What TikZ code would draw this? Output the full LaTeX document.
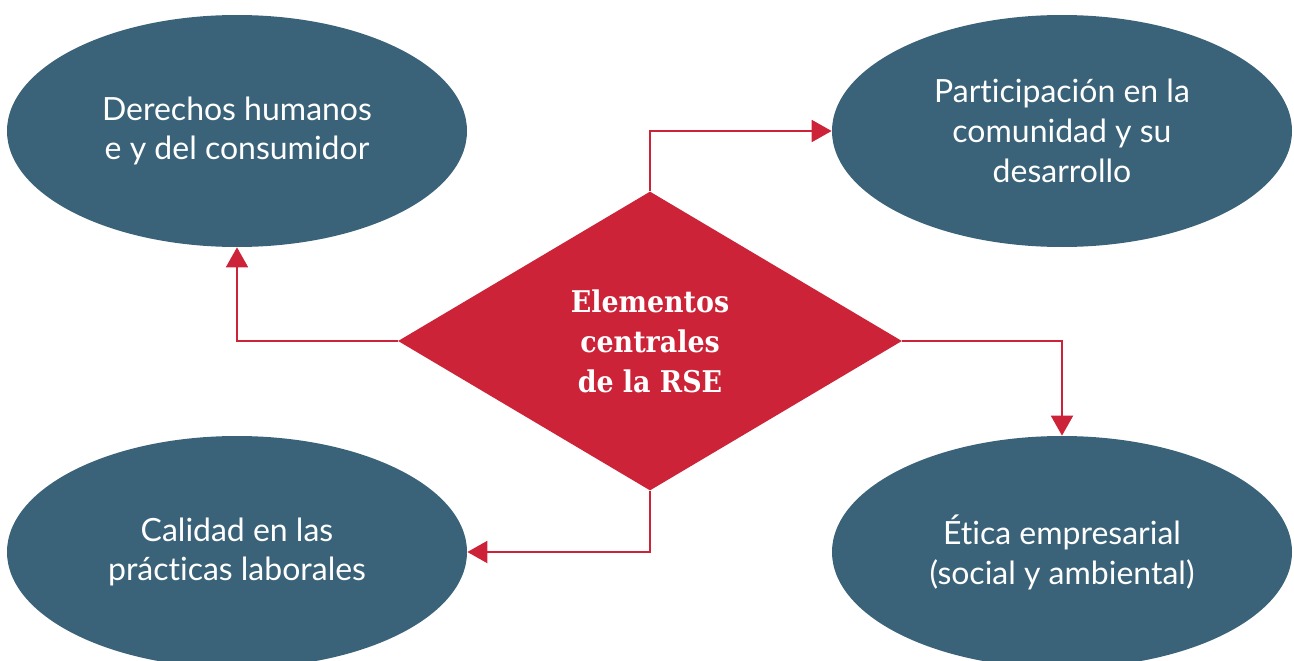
\documentclass[tikz,border=0pt]{standalone}
\usepackage{fontspec}
\setmainfont{Lato}[Ligatures=NoCommon]
\newfontfamily\rsefont{DejaVu Serif Condensed}
\usetikzlibrary{positioning, shapes.geometric, arrows.meta}

\definecolor{rsered}{HTML}{CD2338}
\definecolor{rseblue}{HTML}{3A6379}

\tikzset{
    area/.style={ellipse, fill=rseblue, text=white, minimum width=9.2cm, minimum height=4.64cm,
        inner sep=0pt, align=center, font=\fontsize{18.2}{22.7}\selectfont},
    core/.style={diamond, fill=rsered, text=white, minimum width=10.08cm, minimum height=5.98cm,
        inner sep=0pt, align=center, font=\rsefont\bfseries\fontsize{17}{22.7}\selectfont},
    link/.style={draw=rsered, line width=1.1pt, -{Triangle[length=0.4cm, width=0.44cm]}}
}

\begin{document}
\begin{tikzpicture}
    \useasboundingbox (0,0) rectangle (25.88,-13.22);

    \node (rse)       [core] at (13.00,-6.82)  {Elementos\\centrales\\de la RSE};
    \node (derechos)  [area] at (4.74,-2.62)   {Derechos humanos\\e y del consumidor};
    \node (comunidad) [area] at (21.24,-2.62)  {Participación en la\\comunidad y su\\desarrollo};
    \node (laborales) [area] at (4.74,-11.04)  {Calidad en las\\prácticas laborales};
    \node (etica)     [area] at (21.24,-11.04) {Ética empresarial\\(social y ambiental)};

    \draw[link] (rse.north) |- (comunidad.west);
    \draw[link] (rse.west)  -| (derechos.south);
    \draw[link] (rse.east)  -| (etica.north);
    \draw[link] (rse.south) |- (laborales.east);
\end{tikzpicture}
\end{document}
